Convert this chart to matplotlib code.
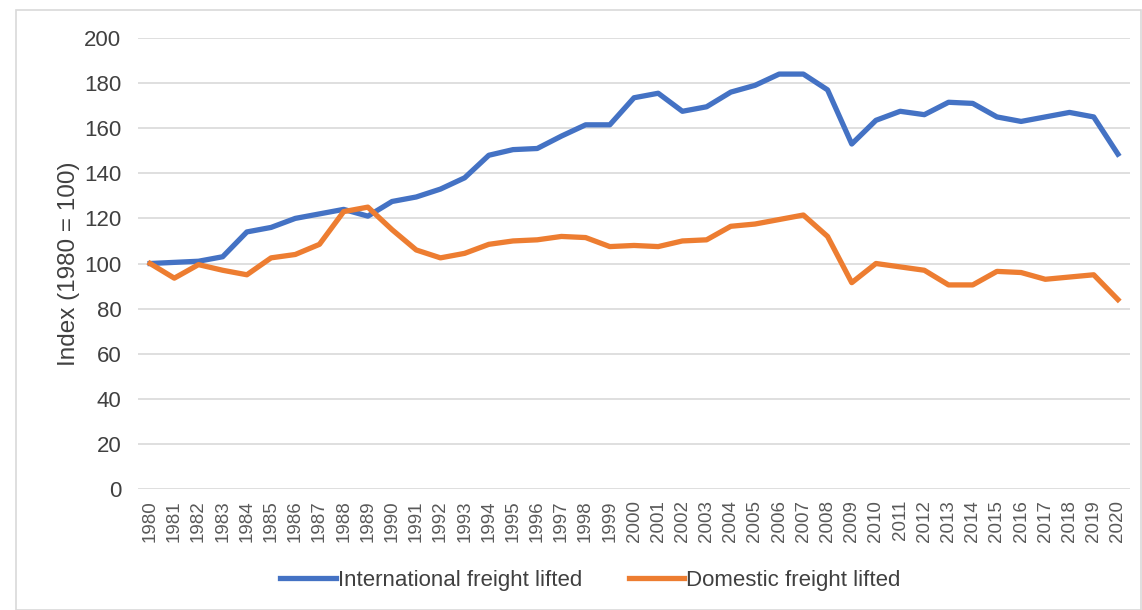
import matplotlib
matplotlib.use("Agg")
import matplotlib.pyplot as plt
from matplotlib.patches import Rectangle

years = [str(y) for y in range(1980, 2021)]
international = [100, 100.5, 101, 103, 114, 116, 120, 122, 124, 121,
                 127.5, 129.5, 133, 138, 148, 150.5, 151, 156.5, 161.5, 161.5,
                 173.5, 175.5, 167.5, 169.5, 176, 179, 184, 184, 177, 153,
                 163.5, 167.5, 166, 171.5, 171, 165, 163, 165, 167, 165, 148.5]
domestic = [100, 93.5, 99.5, 97, 95, 102.5, 104, 108.5, 123, 125,
            115, 106, 102.5, 104.5, 108.5, 110, 110.5, 112, 111.5, 107.5,
            108, 107.5, 110, 110.5, 116.5, 117.5, 119.5, 121.5, 112, 91.5,
            100, 98.5, 97, 90.5, 90.5, 96.5, 96, 93, 94, 95, 84]
series_names = ["International freight lifted", "Domestic freight lifted"]
yticks = list(range(0, 201, 20))

plt.rcParams['font.family'] = ['Liberation Sans', 'DejaVu Sans']

W, H = 1142, 610
fig = plt.figure(figsize=(W / 100, H / 100), dpi=100)
ax = fig.add_axes([138 / W, 1 - 489 / H, (1130 - 138) / W, (489 - 38) / H])

x = list(range(len(years)))
ax.plot(x, international, color="#4472C4", lw=3.8, label=series_names[0], solid_joinstyle="round")
ax.plot(x, domestic, color="#ED7D31", lw=3.8, label=series_names[1], solid_joinstyle="round")

ax.set_xlim(-0.5, len(years) - 0.5)
ax.set_ylim(0, 200)
ax.set_yticks(yticks)
ax.set_xticks(x)
ax.set_xticklabels(years, rotation=90, fontsize=13.5, color="#595959")
ax.tick_params(axis="y", labelsize=16, colors="#404040", length=0, pad=12)
ax.tick_params(axis="x", length=0, pad=8)
ax.grid(axis="y", color="#d9d9d9", lw=1.2)
ax.set_axisbelow(True)
for s in ax.spines.values():
    s.set_visible(False)
ax.set_ylabel("Index (1980 = 100)", fontsize=17.5, color="#404040", labelpad=3)

fig.legend(loc="center", bbox_to_anchor=(0.517, 0.049), ncol=2, frameon=False,
           fontsize=16, handlelength=2.5, handletextpad=0.1, columnspacing=2.1,
           labelcolor="#404040")

fig.patches.append(Rectangle((16 / W, 0), (W - 17) / W, 1 - 10 / H,
                             transform=fig.transFigure, fill=False,
                             edgecolor="#d9d9d9", lw=1.2))

fig.savefig("out.png", dpi=100)
